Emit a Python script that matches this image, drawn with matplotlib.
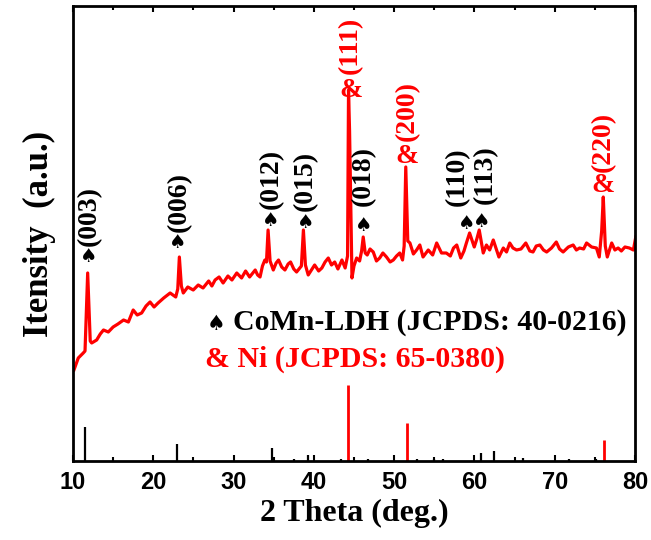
import matplotlib
matplotlib.use('Agg')
import matplotlib.pyplot as plt

plt.rcParams['font.family'] = ['Liberation Serif', 'DejaVu Sans']
plt.rcParams['font.weight'] = 'bold'
plt.rcParams['axes.labelweight'] = 'bold'

# 实测 XRD 曲线 (2θ, 强度)
two_theta = [10.12, 10.66, 11.28, 11.5, 11.83, 12.15, 12.33, 12.95, 13.4, 13.8,
             14.4, 15.0, 15.6, 16.3, 16.9, 17.5, 18.0, 18.55, 19.1, 19.6,
             20.1, 20.6, 21.3, 22.1, 22.8, 23.05, 23.25, 23.5, 23.74, 24.3,
             24.98, 25.6, 26.2, 26.9, 27.3, 27.7, 28.2, 28.7, 29.3, 29.8,
             30.4, 31.0, 31.5, 32.0, 32.7, 33.0, 33.3, 33.6, 33.9, 34.1,
             34.3, 34.55, 34.95, 35.3, 35.6, 36.0, 36.4, 36.8, 37.1, 37.5,
             37.85, 38.45, 38.7, 38.95, 39.3, 39.7, 40.1, 40.6, 41.0, 41.4,
             41.8, 42.2, 42.6, 43.0, 43.5, 43.9, 44.2, 44.32, 44.45, 44.75,
             45.0, 45.33, 45.7, 45.95, 46.15, 46.4, 46.65, 47.0, 47.4, 47.8,
             48.2, 48.6, 49.05, 49.5, 49.9, 50.3, 50.7, 51.05, 51.25, 51.45,
             51.7, 51.97, 52.4, 52.8, 53.2, 53.6, 54.25, 54.8, 55.3, 55.9,
             56.5, 57.0, 57.4, 57.8, 58.3, 58.7, 59.0, 59.4, 59.98, 60.3,
             60.6, 61.1, 61.5, 61.9, 62.35, 63.05, 63.6, 64.0, 64.4, 64.8,
             65.25, 65.8, 66.4, 66.9, 67.3, 67.7, 68.15, 68.6, 69.0, 69.6,
             70.2, 70.6, 71.05, 71.7, 72.3, 72.7, 73.1, 73.6, 73.97, 74.6,
             75.2, 75.55, 75.85, 76.05, 76.3, 76.55, 77.1, 77.5, 77.9, 78.3,
             78.75, 79.3, 79.8, 80.1]
intensity = [91, 103, 108, 110, 188, 120, 118, 121, 127, 131,
             129, 134, 137, 141, 139, 151, 146, 148, 155, 159,
             154, 158, 163, 168, 164, 172, 204, 175, 168, 174,
             171, 176, 173, 180, 175, 181, 184, 178, 185, 181,
             188, 183, 190, 184, 191, 186, 184, 195, 201, 199,
             231, 200, 191, 198, 201, 194, 191, 197, 199, 192,
             189, 195, 231, 196, 186, 191, 196, 190, 193, 199,
             203, 196, 199, 192, 201, 193, 205, 371, 330, 183,
             195, 203, 200, 210, 224, 208, 206, 212, 209, 200,
             203, 208, 204, 199, 201, 205, 208, 201, 215, 294,
             220, 218, 207, 211, 216, 204, 211, 206, 218, 208,
             208, 205, 213, 216, 203, 210, 218, 228, 214, 222,
             231, 208, 216, 211, 221, 204, 213, 209, 218, 213,
             211, 212, 218, 210, 209, 215, 216, 211, 209, 213,
             219, 212, 209, 214, 216, 211, 213, 212, 218, 214,
             213, 204, 230, 264, 215, 204, 218, 211, 213, 210,
             214, 213, 211, 224]

# 标准卡片衍射线
ldh_pos = [11.45, 23.0, 34.85, 37.5, 39.3, 43.4, 46.8, 52.8, 55.0, 56.1,
           60.8, 62.4, 66.1, 71.8, 75.1]
ldh_int = [34, 17, 13, 1.5, 6, 1.5, 1.5, 1.5, 1.5, 1.5, 8, 10, 2.5, 1.5, 1.5]
ni_pos = [44.3, 51.6, 76.1]
ni_int = [76, 38, 21]

# 晶面标注: 标签位置(底部) 和 符号位置(基线)
ldh_labels = ['(003)', '(006)', '(012)', '(015)', '(018)', '(110)', '(113)']
ldh_label_x = [12.0, 23.3, 34.65, 39.0, 46.15, 57.9, 61.4]
ldh_label_y = [215, 229, 252, 250, 255, 255, 257]
ldh_mark_x = [12.0, 23.1, 34.65, 39.0, 46.15, 59.0, 60.85]
ldh_mark_y = [199, 213, 235, 233, 230, 232, 234]
ni_labels = ['(111)', '(200)', '(220)']
ni_label_x = [44.5, 51.6, 76.1]
ni_label_y = [387, 320, 289]
ni_mark_x = [44.6, 51.6, 76.05]
ni_mark_y = [364, 298, 269]

fig = plt.figure(figsize=(6.51, 5.40), dpi=100)
ax = fig.add_axes([0.1121, 0.1463, 0.8633, 0.8426])

ax.plot(two_theta, intensity, color='red', linewidth=2.3)
ax.vlines(ldh_pos, 0, ldh_int, colors='black', linewidth=1.6)
ax.vlines(ni_pos, 0, ni_int, colors='red', linewidth=2.0)

for lab, x, y in zip(ldh_labels, ldh_label_x, ldh_label_y):
    ax.text(x, y, lab, rotation=90, ha='center', va='bottom', fontsize=20, color='black')
for x, y in zip(ldh_mark_x, ldh_mark_y):
    ax.text(x, y, '\u2660', ha='center', va='baseline', fontsize=14, color='black',
            family=['DejaVu Sans'])
for lab, x, y in zip(ni_labels, ni_label_x, ni_label_y):
    ax.text(x, y, lab, rotation=90, ha='center', va='bottom', fontsize=20, color='red')
for x, y in zip(ni_mark_x, ni_mark_y):
    ax.text(x, y, '&', ha='center', va='baseline', fontsize=20, color='red')

# 图例
ax.text(26.6, 131, '\u2660', fontsize=15, color='black', ha='left', va='baseline',
        family=['DejaVu Sans'])
ax.text(29.9, 131, 'CoMn-LDH (JCPDS: 40-0216)', fontsize=21.5, color='black',
        ha='left', va='baseline')
ax.text(26.45, 94, '& Ni (JCPDS: 65-0380)', fontsize=21.5, color='red',
        ha='left', va='baseline')

ax.set_xlim(10, 80)
ax.set_ylim(0, 455)
ax.set_xticks(range(10, 81, 10))
ax.set_xticks(range(15, 80, 10), minor=True)
ax.set_yticks([])
ax.tick_params(axis='x', which='both', direction='in', top=True, width=1.5, pad=7)
ax.tick_params(axis='x', which='major', length=4)
ax.tick_params(axis='x', which='minor', length=3)
for lab in ax.get_xticklabels():
    lab.set_family('Liberation Sans')
    lab.set_fontsize(17)
    lab.set_fontweight('bold')
for sp in ax.spines.values():
    sp.set_linewidth(2.0)

ax.set_xlabel('2 Theta (deg.)', fontsize=23, fontweight='bold', labelpad=4)
ax.set_ylabel('Itensity  (a.u.)', fontsize=25, fontweight='bold', labelpad=12)

fig.savefig('out.png', dpi=100)
